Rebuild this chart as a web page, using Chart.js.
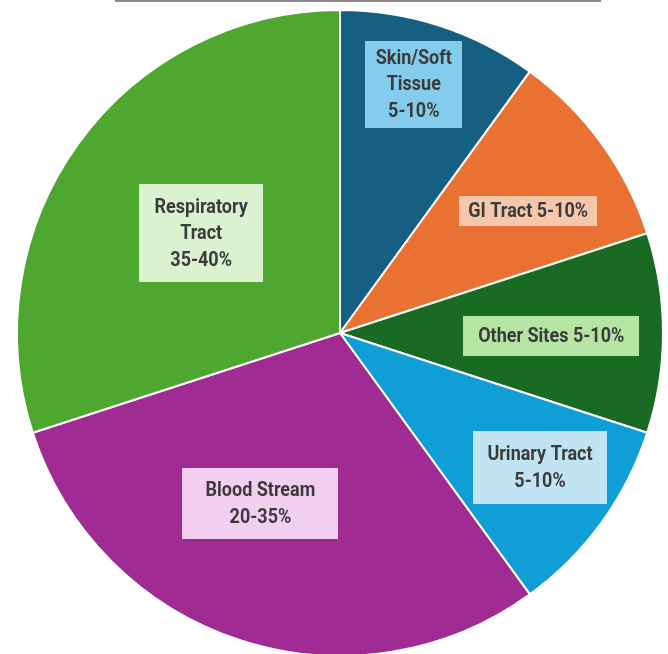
<!DOCTYPE html>
<html>
<head>
<meta charset="utf-8">
<script src="https://cdn.jsdelivr.net/npm/chart.js@4.4.1/dist/chart.umd.min.js"></script>
<style>
  html, body { margin: 0; padding: 0; background: #ffffff; overflow: hidden; }
  #wrap { position: relative; width: 668px; height: 662px; }
  #topline { position: absolute; left: 115px; top: 0; width: 486px; height: 2px; background: #8a8a8a; }
</style>
</head>
<body>
<div id="wrap">
  <canvas id="c" width="668" height="662"></canvas>
  <div id="topline"></div>
</div>
<script>
// ---- data ----
const categories = ["Skin/Soft Tissue", "GI Tract", "Other Sites", "Urinary Tract", "Blood Stream", "Respiratory Tract"];
const values = [10, 10, 10, 10, 30, 30];
const labelLines = [
  ["Skin/Soft", "Tissue", "5-10%"],
  ["GI Tract 5-10%"],
  ["Other Sites 5-10%"],
  ["Urinary Tract", "5-10%"],
  ["Blood Stream", "20-35%"],
  ["Respiratory", "Tract", "35-40%"]
];

// ---- styles ----
const sliceColors = ["#156082", "#E97132", "#196B24", "#0F9ED5", "#A02B93", "#4EA72E"];
const boxColors = ["#83CCEB", "#F7C7AC", "#B4E5A2", "#C1E4F5", "#F2CEEF", "#DAF2D0"];
// label placement relative to each arc: fraction of radius, angle shift (deg), box size
const labelPlace = [
  { frac: 0.804, shift: -1.5, w: 97, h: 87 },
  { frac: 0.694, shift: 3.1, w: 138, h: 30 },
  { frac: 0.654, shift: 0.8, w: 176, h: 40 },
  { frac: 0.746, shift: -2.1, w: 134, h: 73 },
  { frac: 0.583, shift: 7.0, w: 156, h: 71 },
  { frac: 0.529, shift: -0.35, w: 124, h: 98 }
];

const boxLabelPlugin = {
  id: 'boxLabels',
  afterDatasetsDraw(chart) {
    const ctx = chart.ctx;
    const meta = chart.getDatasetMeta(0);
    meta.data.forEach((arc, i) => {
      const p = arc.getProps(['x', 'y', 'startAngle', 'endAngle', 'outerRadius'], true);
      const mid = (p.startAngle + p.endAngle) / 2 + labelPlace[i].shift * Math.PI / 180;
      const r = p.outerRadius * labelPlace[i].frac;
      const cx = p.x + r * Math.cos(mid);
      const cy = p.y + r * Math.sin(mid);
      const w = labelPlace[i].w, h = labelPlace[i].h;
      ctx.save();
      ctx.fillStyle = boxColors[i];
      ctx.fillRect(Math.round(cx - w / 2), Math.round(cy - h / 2), w, h);
      ctx.fillStyle = '#3b3b3b';
      ctx.font = 'bold 20px Roboto, "Liberation Sans", sans-serif';
      ctx.textAlign = 'center';
      ctx.textBaseline = 'middle';
      const lines = labelLines[i];
      const lh = 26.5;
      const y0 = cy - (lines.length - 1) * lh / 2 + 1;
      const sx = 0.9;
      lines.forEach((t, k) => {
        ctx.save();
        ctx.translate(cx, y0 + k * lh);
        ctx.scale(sx, 1);
        ctx.fillText(t, 0, 0);
        ctx.restore();
      });
      ctx.restore();
    });
  }
};

new Chart(document.getElementById('c'), {
  type: 'pie',
  data: {
    labels: categories,
    datasets: [{
      data: values,
      backgroundColor: sliceColors,
      borderColor: '#ffffff',
      borderWidth: 2,
      hoverOffset: 0
    }]
  },
  options: {
    responsive: false,
    animation: false,
    layout: { padding: { left: 16, right: 4, top: 9, bottom: 5 } },
    plugins: {
      legend: { display: false },
      tooltip: { enabled: false }
    }
  },
  plugins: [boxLabelPlugin]
});
</script>
</body>
</html>
